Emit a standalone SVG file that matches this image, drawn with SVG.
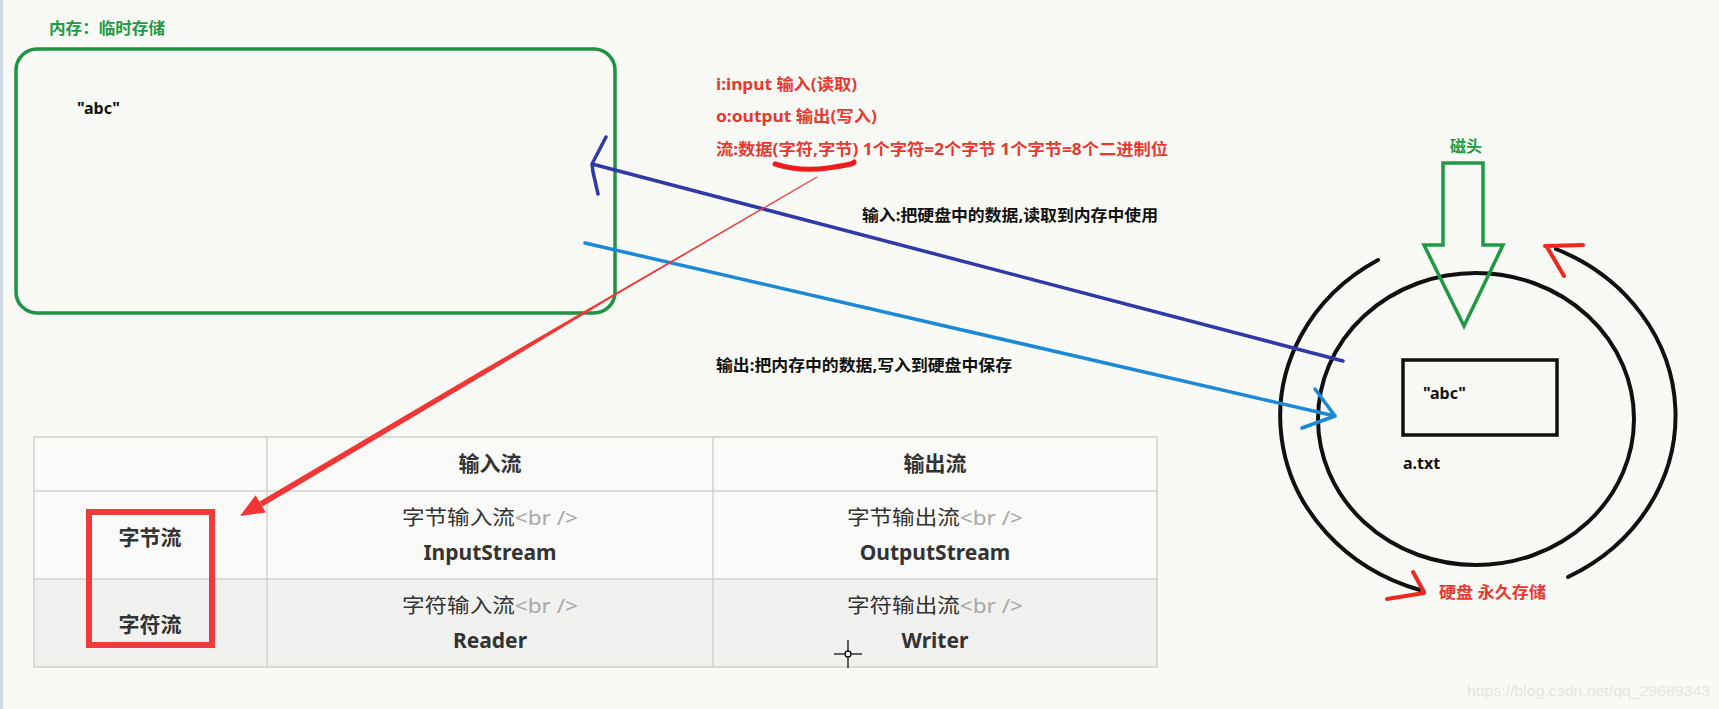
<svg xmlns="http://www.w3.org/2000/svg" width="1719" height="709" viewBox="0 0 1719 709">
<style>
.cn{font-family:"Noto Sans","Noto Sans CJK SC",sans-serif;}
.b{font-weight:bold;}
.red{fill:#e8382f;}
.grn{fill:#1f9a45;}
.blk{fill:#111;}
.tbl{fill:#333;}
.br{fill:#a8a8a8;font-weight:normal;}
.ink{fill:none;stroke-linecap:round;stroke-linejoin:round;}
</style>
<rect x="0" y="0" width="1719" height="709" fill="#f9faf6"/>
<rect x="0" y="0" width="3" height="709" fill="#cfd6e4"/>

<g id="memory">
  <text class="cn b grn" x="49" y="34" font-size="16" textLength="116" lengthAdjust="spacingAndGlyphs">内存：临时存储</text>
  <rect x="16" y="49" width="599" height="264" rx="21" fill="none" stroke="#1e9342" stroke-width="3.5"/>
  <text class="cn b blk" x="77" y="114" font-size="16">"abc"</text>
</g>

<g id="notes">
  <text class="cn b red" x="716" y="90" font-size="16" textLength="141" lengthAdjust="spacingAndGlyphs">i:input 输入(读取)</text>
  <text class="cn b red" x="716" y="122" font-size="16" textLength="161" lengthAdjust="spacingAndGlyphs">o:output 输出(写入)</text>
  <text class="cn b red" x="716" y="155" font-size="16" textLength="452" lengthAdjust="spacingAndGlyphs">流:数据(字符,字节) 1个字符=2个字节 1个字节=8个二进制位</text>
  <path class="ink" d="M775,164 Q800,172 828,168 T854,162" stroke="#ee1c1c" stroke-width="5"/>
  <text class="cn b blk" x="862" y="221" font-size="16" textLength="296" lengthAdjust="spacingAndGlyphs">输入:把硬盘中的数据,读取到内存中使用</text>
  <text class="cn b blk" x="716" y="371" font-size="16" textLength="296" lengthAdjust="spacingAndGlyphs">输出:把内存中的数据,写入到硬盘中保存</text>
</g>

<g id="disk">
  <text class="cn b grn" x="1450" y="152" font-size="16">磁头</text>
  <ellipse cx="1476" cy="419" rx="158" ry="146" fill="none" stroke="#111" stroke-width="4"/>
  <path class="ink" d="M1378,260 A200,182 0 0 0 1420,590" stroke="#111" stroke-width="4"/>
  <path class="ink" d="M1556,249 A200,182 0 0 1 1568,577" stroke="#111" stroke-width="4"/>
  <polygon points="1443,163 1483,163 1483,245 1503,245 1464,326 1424,245 1443,245" fill="none" stroke="#1e9a44" stroke-width="3.5"/>
  <rect x="1403" y="360" width="154" height="75" fill="none" stroke="#111" stroke-width="3.5"/>
  <text class="cn b blk" x="1423" y="399" font-size="16">"abc"</text>
  <text class="cn b blk" x="1403" y="469" font-size="16">a.txt</text>
  <path class="ink" d="M1545,246 L1583,245 M1547,247 L1564,276" stroke="#ee2a1c" stroke-width="4"/>
  <path class="ink" d="M1387,599 L1424,593 M1413,572 L1424,592" stroke="#ee2a1c" stroke-width="4"/>
  <text class="cn b red" x="1439" y="598" font-size="16" textLength="107" lengthAdjust="spacingAndGlyphs">硬盘 永久存储</text>
</g>

<g id="table">
  <rect x="34" y="437" width="1123" height="54" fill="#fafaf8"/>
  <rect x="34" y="491" width="1123" height="88" fill="#fafaf8"/>
  <rect x="34" y="579" width="1123" height="88" fill="#f1f1ef"/>
  <g stroke="#d0d0ce" stroke-width="1.5" fill="none">
    <rect x="34" y="437" width="1123" height="230"/>
    <line x1="34" y1="491" x2="1157" y2="491"/>
    <line x1="34" y1="579" x2="1157" y2="579"/>
    <line x1="267" y1="437" x2="267" y2="667"/>
    <line x1="713" y1="437" x2="713" y2="667"/>
  </g>
  <g class="cn tbl" text-anchor="middle">
    <text class="b" x="490" y="471" font-size="21">输入流</text>
    <text class="b" x="935" y="471" font-size="21">输出流</text>
    <text class="b" x="150" y="545" font-size="21">字节流</text>
    <text class="b" x="150" y="632" font-size="21">字符流</text>
    <text x="490" y="525" font-size="20" textLength="176" lengthAdjust="spacingAndGlyphs">字节输入流<tspan class="br">&lt;br /&gt;</tspan></text>
    <text class="b" x="490" y="560" font-size="21">InputStream</text>
    <text x="935" y="525" font-size="20" textLength="176" lengthAdjust="spacingAndGlyphs">字节输出流<tspan class="br">&lt;br /&gt;</tspan></text>
    <text class="b" x="935" y="560" font-size="21">OutputStream</text>
    <text x="490" y="613" font-size="20" textLength="176" lengthAdjust="spacingAndGlyphs">字符输入流<tspan class="br">&lt;br /&gt;</tspan></text>
    <text class="b" x="490" y="648" font-size="21">Reader</text>
    <text x="935" y="613" font-size="20" textLength="176" lengthAdjust="spacingAndGlyphs">字符输出流<tspan class="br">&lt;br /&gt;</tspan></text>
    <text class="b" x="935" y="648" font-size="21">Writer</text>
  </g>
  <rect x="89" y="512" width="123" height="133" fill="none" stroke="#f23a3a" stroke-width="6"/>
</g>

<g id="connectors">
  <path class="ink" d="M1343,361 L592,164 M606,137 L592,164 L593,172 L598,194" stroke="#2f3aa8" stroke-width="3.5"/>
  <path class="ink" d="M585,243 L1335,416 M1315,389 L1335,416 L1302,428" stroke="#1a8ad8" stroke-width="3.5"/>
  <polygon points="816.7,176.6 610.8,295.8 482.1,370.3 259.5,501.4 262.5,506.6 484.7,374.6 611.8,297.6 817.3,177.4" fill="#f23535"/>
  <polygon points="240,516 255.6,495.2 265.8,512.4" fill="#f23535"/>
</g>

<g id="cursor" stroke="#111" stroke-width="1.3" fill="none">
  <line x1="848" y1="640" x2="848" y2="668"/>
  <line x1="834" y1="654" x2="862" y2="654"/>
  <circle cx="848" cy="654" r="3" fill="#f1f1ef"/>
</g>

<text x="1467" y="696" font-family="Liberation Sans, sans-serif" font-size="15.5" fill="#e4e5e2" textLength="243" lengthAdjust="spacingAndGlyphs">https://blog.csdn.net/qq_29689343</text>
</svg>
